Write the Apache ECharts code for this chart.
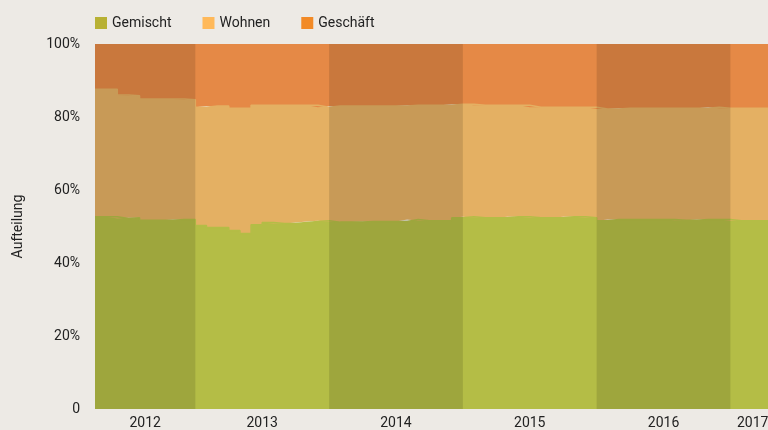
<!DOCTYPE html>
<html>
<head>
<meta charset="utf-8">
<script src="https://cdn.jsdelivr.net/npm/echarts@6/dist/echarts.min.js"></script>
<style>
  html, body { margin: 0; padding: 0; background: #edeae5; overflow: hidden; }
  #chart { width: 775px; height: 430px; }
</style>
</head>
<body>
<div id="chart"></div>
<script>
// Monate April 2012 bis April 2017
var months = [
  '2012-04','2012-05','2012-06','2012-07','2012-08','2012-09','2012-10','2012-11','2012-12',
  '2013-01','2013-02','2013-03','2013-04','2013-05','2013-06','2013-07','2013-08','2013-09','2013-10','2013-11','2013-12',
  '2014-01','2014-02','2014-03','2014-04','2014-05','2014-06','2014-07','2014-08','2014-09','2014-10','2014-11','2014-12',
  '2015-01','2015-02','2015-03','2015-04','2015-05','2015-06','2015-07','2015-08','2015-09','2015-10','2015-11','2015-12',
  '2016-01','2016-02','2016-03','2016-04','2016-05','2016-06','2016-07','2016-08','2016-09','2016-10','2016-11','2016-12',
  '2017-01','2017-02','2017-03','2017-04'
];
// Anteile in %
var gemischt = [
  52.7, 52.7, 52.2, 52.4, 51.7, 51.7, 51.7, 51.9, 51.9,
  50.3, 49.7, 49.7, 48.9, 48.1, 50.5, 51.1, 50.8, 50.8, 51.1, 51.4, 51.6,
  51.2, 51.2, 51.2, 51.4, 51.4, 51.4, 51.4, 51.9, 51.6, 51.6, 51.6, 52.4,
  52.7, 52.4, 52.4, 52.4, 52.7, 52.7, 52.4, 52.4, 52.4, 52.7, 52.7, 52.4,
  51.6, 51.9, 51.9, 51.9, 51.9, 51.9, 51.9, 51.7, 51.7, 51.9, 51.9, 51.9,
  51.6, 51.6, 51.6, 51.6
];
var wohnen = [
  34.9, 34.9, 33.8, 33.4, 33.2, 33.2, 33.2, 33.0, 32.8,
  32.4, 33.3, 33.3, 33.5, 34.3, 32.7, 32.1, 32.4, 32.4, 32.1, 31.8, 31.1,
  31.8, 31.8, 31.8, 31.6, 31.6, 31.6, 31.6, 31.3, 31.6, 31.6, 31.6, 31.1,
  30.8, 30.8, 30.8, 30.8, 30.5, 30.5, 30.3, 30.3, 30.3, 30.0, 30.0, 30.3,
  30.6, 30.3, 30.5, 30.5, 30.5, 30.5, 30.5, 30.7, 30.7, 30.5, 30.8, 30.5,
  30.8, 30.8, 30.8, 30.8
];
var geschaeft = [
  12.4, 12.4, 14.0, 14.2, 15.1, 15.1, 15.1, 15.1, 15.3,
  17.3, 17.0, 17.0, 17.6, 17.6, 16.8, 16.8, 16.8, 16.8, 16.8, 16.8, 17.3,
  17.0, 17.0, 17.0, 17.0, 17.0, 17.0, 17.0, 16.8, 16.8, 16.8, 16.8, 16.5,
  16.5, 16.8, 16.8, 16.8, 16.8, 16.8, 17.3, 17.3, 17.3, 17.3, 17.3, 17.3,
  17.8, 17.8, 17.6, 17.6, 17.6, 17.6, 17.6, 17.6, 17.6, 17.6, 17.3, 17.6,
  17.6, 17.6, 17.6, 17.6
];
// Jahresbeschriftung (Position in Monaten ab April 2012)
var yearLabelPos = [4.5, 15, 27, 39, 51, 59];
var yearLabels = ['2012', '2013', '2014', '2015', '2016', '2017'];

var FONT = 'Roboto';
var chart = echarts.init(document.getElementById('chart'));

// Monat i gilt von i bis i+1; ein Endpunkt schliesst die letzte Stufe ab
var stepCats = months.concat(['Ende']);
function toSteps(values) {
  return values.concat([values[values.length - 1]]);
}
// gerade Jahre dunkler hinterlegt
function darkYears() {
  var areas = [];
  var start = 0;
  for (var i = 1; i <= months.length; i++) {
    var prevYear = months[i - 1].substr(0, 4);
    if (i === months.length || months[i].substr(0, 4) !== prevYear) {
      if (parseInt(prevYear, 10) % 2 === 0) {
        areas.push([{ xAxis: stepCats[start] }, { xAxis: stepCats[i] }]);
      }
      start = i;
    }
  }
  return areas;
}
// Linie in Flächenfarbe deckt die Fuge zwischen zwei Flächen ab
function makeSeries(name, values, color, lineWidth) {
  return {
    name: name,
    type: 'line',
    stack: 'total',
    step: 'end',
    symbol: 'none',
    lineStyle: { width: lineWidth, color: color },
    itemStyle: { color: color },
    areaStyle: { color: color, opacity: 1 },
    emphasis: { disabled: true },
    data: toSteps(values)
  };
}

var seriesList = [
  makeSeries('Gemischt', gemischt, '#b4bd46', 1.5),
  makeSeries('Wohnen', wohnen, '#e4b063', 1.5),
  makeSeries('Geschäft', geschaeft, '#e58946', 0)
];
// Abdunkelung über allen Flächen
seriesList[2].markArea = {
  silent: true,
  z: 10,
  itemStyle: { color: 'rgba(0,0,0,0.12)' },
  data: darkYears()
};

var option = {
  backgroundColor: '#edeae5',
  animation: false,
  legend: {
    left: 95,
    top: 16,
    padding: 0,
    itemWidth: 12,
    itemHeight: 12,
    itemGap: 31,
    icon: 'rect',
    textStyle: { fontFamily: FONT, fontSize: 14, color: '#222' },
    data: [
      { name: 'Gemischt', itemStyle: { color: '#b8b134' } },
      { name: 'Wohnen', itemStyle: { color: '#ffb95a' } },
      { name: 'Geschäft', itemStyle: { color: '#f28a26' } }
    ]
  },
  grid: {
    left: 95,
    right: 0,
    top: 44,
    bottom: 16
  },
  xAxis: [{
    type: 'category',
    boundaryGap: false,
    data: stepCats,
    axisLine: { show: false },
    axisTick: { show: false },
    axisLabel: { show: false }
  }, {
    type: 'value',
    position: 'bottom',
    min: 0,
    max: months.length,
    axisLine: { show: false },
    axisTick: { show: false },
    splitLine: { show: false },
    axisLabel: {
      customValues: yearLabelPos,
      margin: 7,
      fontFamily: FONT,
      fontSize: 14,
      color: '#222',
      formatter: function (v) {
        return yearLabels[yearLabelPos.indexOf(v)] || '';
      }
    }
  }],
  yAxis: {
    type: 'value',
    min: 0,
    max: 100,
    interval: 20,
    name: 'Aufteilung',
    nameLocation: 'middle',
    nameGap: 70,
    nameTextStyle: { fontFamily: FONT, fontSize: 14, color: '#222' },
    axisLine: { show: false },
    axisTick: { show: false },
    splitLine: { show: false },
    axisLabel: {
      margin: 15,
      fontFamily: FONT,
      fontSize: 14,
      color: '#222',
      formatter: function (v) {
        return v === 0 ? '0' : v + '%';
      }
    }
  },
  series: seriesList
};
chart.setOption(option);
</script>
</body>
</html>
